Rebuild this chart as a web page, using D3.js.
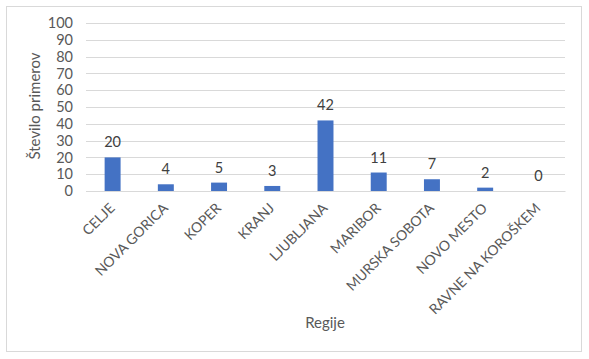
<!DOCTYPE html>
<html><head><meta charset="utf-8">
<script src="https://cdn.jsdelivr.net/npm/d3@7"></script>
<style>body{margin:0;background:#fff}</style>
</head><body>
<svg id="c" width="589" height="359"></svg>
<script>
const categories = ["CELJE","NOVA GORICA","KOPER","KRANJ","LJUBLJANA","MARIBOR","MURSKA SOBOTA","NOVO MESTO","RAVNE NA KOROŠKEM"];
const values = [20,4,5,3,42,11,7,2,0];
const yTicks = [0,10,20,30,40,50,60,70,80,90,100];
const yTitle = "Število primerov";
const xTitle = "Regije";

(function(){
const font = "Lato, 'Open Sans', sans-serif";
const txt = "#595959";
const svg = d3.select("#c");
svg.append("rect").attr("x",6.5).attr("y",6.5).attr("width",575).attr("height",345)
  .attr("fill","#fff").attr("stroke","#d9d9d9");

const pl=86, pr=565, pt=23, pb=191;
const x = d3.scaleBand().domain(categories).range([pl,pr]).paddingInner(0.7).paddingOuter(0.35);
const y = d3.scaleLinear().domain([0,100]).range([pb,pt]);

const g = svg.append("g");
g.selectAll("line.grid").data(yTicks).join("line")
  .attr("x1",pl).attr("x2",pr).attr("y1",d=>Math.round(y(d))+0.5).attr("y2",d=>Math.round(y(d))+0.5)
  .attr("stroke","#d9d9d9").attr("stroke-width",1);

const yAxis = d3.axisLeft(y).tickValues(yTicks).tickSize(0).tickPadding(0);
const ya = svg.append("g").attr("transform",`translate(${pl-13},0)`).call(yAxis);
ya.select(".domain").remove();
ya.selectAll("text").attr("font-family",font).attr("font-size",14.5).attr("fill",txt);

g.selectAll("rect.bar").data(values).join("rect")
  .attr("x",(d,i)=>x(categories[i])).attr("width",x.bandwidth())
  .attr("y",d=>y(d)).attr("height",d=>pb-y(d)).attr("fill","#4472C4");

g.selectAll("text.val").data(values).join("text")
  .attr("x",(d,i)=>x(categories[i])+x.bandwidth()/2).attr("y",d=>y(d)-10)
  .attr("text-anchor","middle").attr("font-family",font).attr("font-size",14.5).attr("fill","#404040")
  .text(d=>d);

const xAxis = d3.axisBottom(x).tickSize(0).tickPadding(0);
const xa = svg.append("g").attr("transform",`translate(0,${pb})`).call(xAxis);
xa.select(".domain").attr("stroke","#d9d9d9");
xa.selectAll(".tick text").attr("font-family",font).attr("font-size",14).attr("fill",txt)
  .attr("text-anchor","end").attr("dy",0)
  .attr("transform","translate(3,18) rotate(-45)");

svg.append("text").attr("transform",`translate(40,106) rotate(-90)`).attr("text-anchor","middle")
  .attr("font-family",font).attr("font-size",15).attr("fill",txt).text(yTitle);
svg.append("text").attr("x",325).attr("y",328).attr("text-anchor","middle")
  .attr("font-family",font).attr("font-size",15).attr("fill",txt).text(xTitle);
})();
</script>
</body></html>
